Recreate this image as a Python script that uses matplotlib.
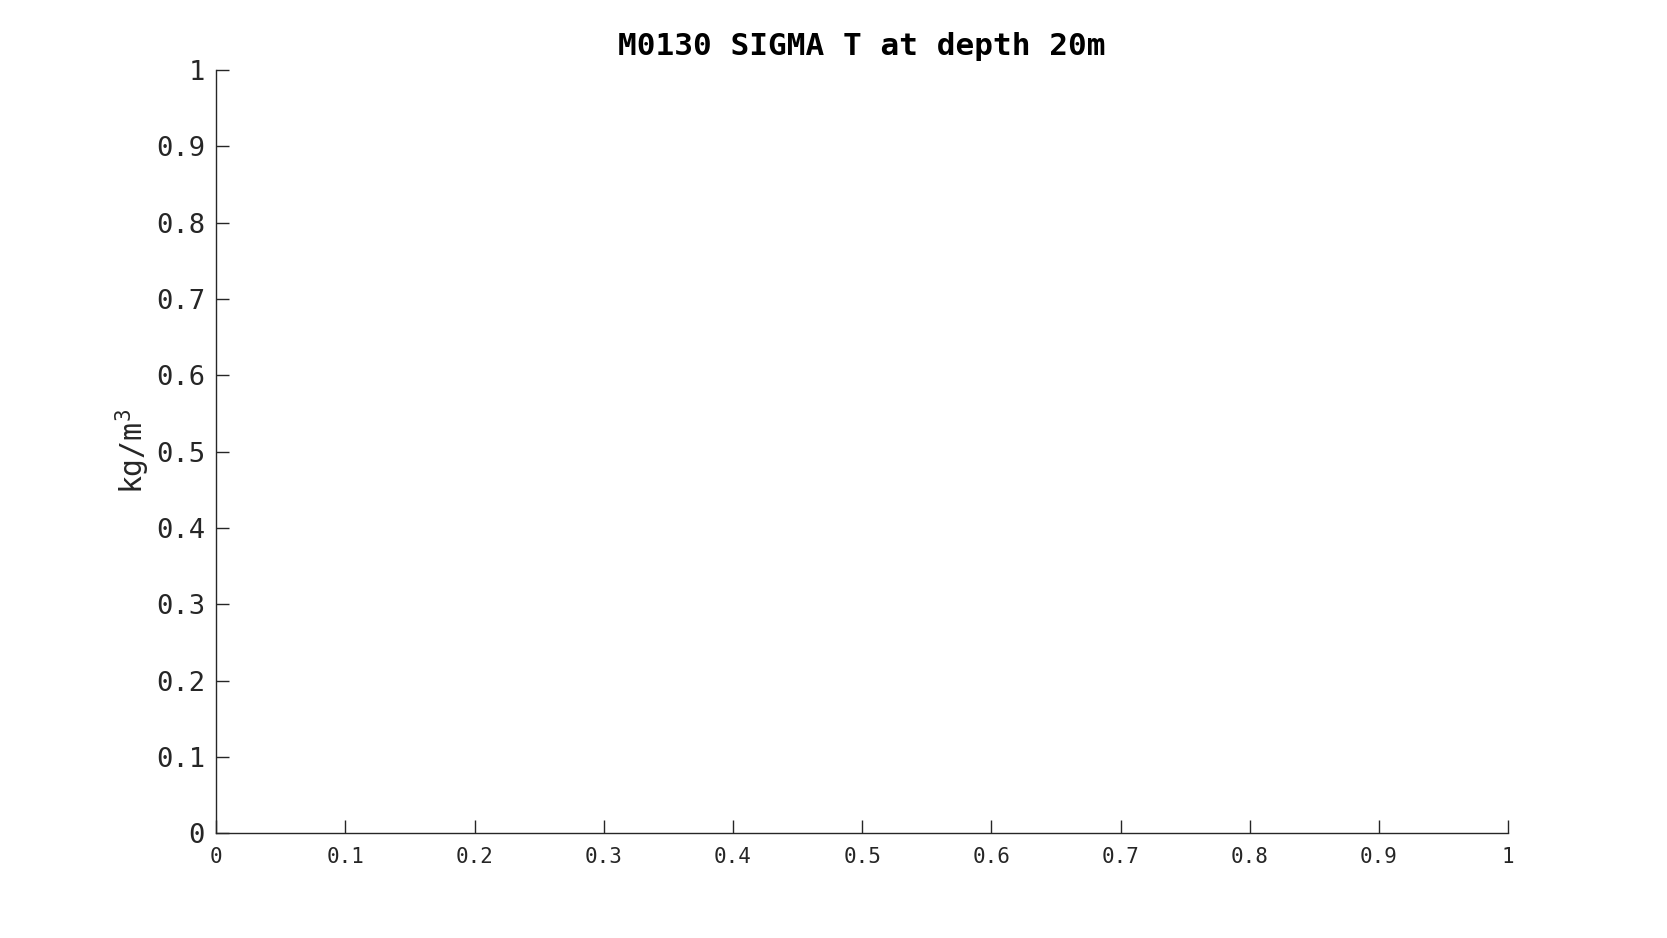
import matplotlib.pyplot as plt
import numpy as np

title = "M0130 SIGMA T at depth 20m"
ylabel = "kg/m$^3$"
xticks = [0, 0.1, 0.2, 0.3, 0.4, 0.5, 0.6, 0.7, 0.8, 0.9, 1]
yticks = [0, 0.1, 0.2, 0.3, 0.4, 0.5, 0.6, 0.7, 0.8, 0.9, 1]
xticklabels = ["0", "0.1", "0.2", "0.3", "0.4", "0.5", "0.6", "0.7", "0.8", "0.9", "1"]
yticklabels = ["0", "0.1", "0.2", "0.3", "0.4", "0.5", "0.6", "0.7", "0.8", "0.9", "1"]

plt.rcParams['font.family'] = ['DejaVu Sans Mono']
plt.rcParams['mathtext.fontset'] = 'custom'
plt.rcParams['mathtext.rm'] = 'DejaVu Sans Mono'

fig = plt.figure(figsize=(16.67, 9.38), dpi=100)
ax = fig.add_axes([0.1297, 0.1116, 0.775, 0.8136])
ax.set_xlim(0, 1)
ax.set_ylim(0, 1)

col = "#262626"
for s in ["top", "right"]:
    ax.spines[s].set_visible(False)
for s in ["left", "bottom"]:
    ax.spines[s].set_color(col)
    ax.spines[s].set_linewidth(1.0)

ax.set_xticks(xticks)
ax.set_xticklabels(xticklabels)
ax.set_yticks(yticks)
ax.set_yticklabels(yticklabels)
ax.tick_params(axis='x', direction='in', length=9.5, width=1.0, color=col,
               labelcolor=col, labelsize=15, pad=9.5)
ax.tick_params(axis='y', direction='in', length=9.5, width=1.0, color=col,
               labelcolor=col, labelsize=19.5, pad=8)

ax.set_ylabel(ylabel, fontsize=21.5, color=col, labelpad=3,
              fontfamily='DejaVu Sans Mono')
ax.set_title(title, fontsize=22.4, fontweight='bold', color='black', pad=11)

fig.savefig("out.png", dpi=100, facecolor='white')
